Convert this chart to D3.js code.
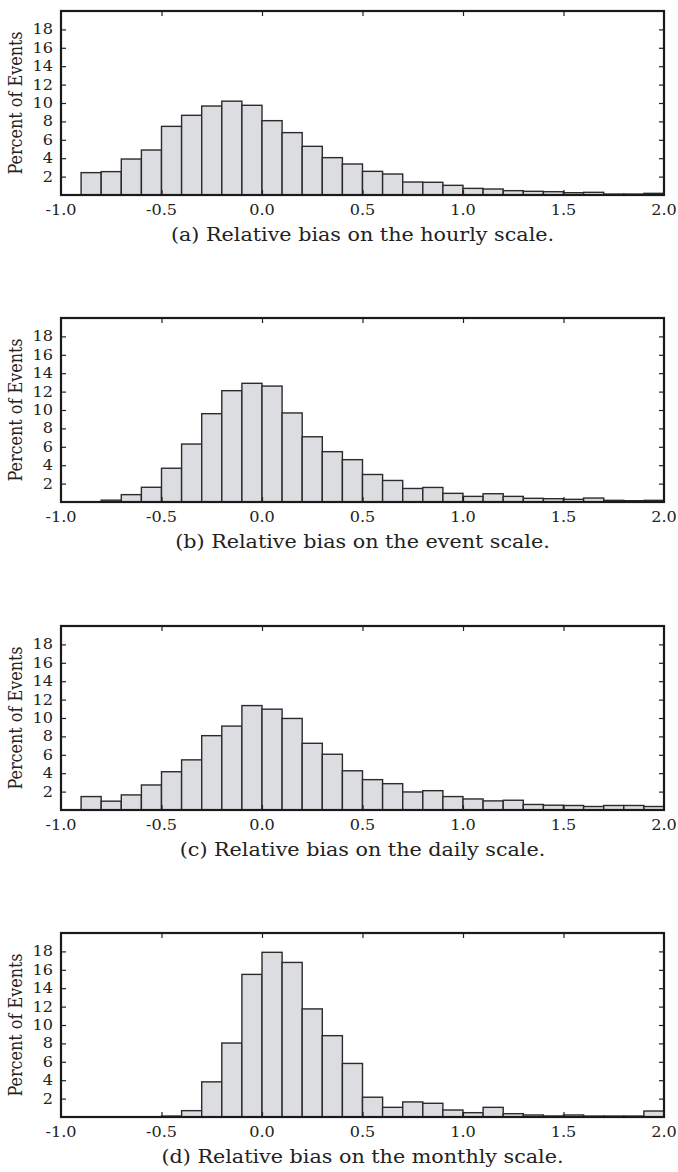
<!DOCTYPE html>
<html>
<head>
<meta charset="utf-8">
<script src="https://cdn.jsdelivr.net/npm/d3@7"></script>
<style>
  body { margin: 0; background: #fff; }
  text { font-family: "DejaVu Serif", serif; fill: #222; }
</style>
</head>
<body>
<div id="chart"></div>
<script>
// bin edges: -1.0 .. 2.0, width 0.1
var binStart = -1.0;
var binWidth = 0.1;

// percent of events per bin
var hourly = [0, 2.43, 2.54, 3.91, 4.89, 7.46, 8.66, 9.67, 10.2, 9.75,
  8.08, 6.78, 5.29, 4.06, 3.37, 2.57, 2.28, 1.41, 1.38, 1.05,
  0.72, 0.65, 0.47, 0.40, 0.36, 0.25, 0.29, 0.10, 0.10, 0.18];
var eventScale = [0, 0, 0.2, 0.8, 1.6, 3.67, 6.3, 9.6, 12.1, 12.9,
  12.6, 9.68, 7.09, 5.47, 4.6, 2.99, 2.34, 1.47, 1.58, 0.94,
  0.61, 0.9, 0.61, 0.4, 0.36, 0.29, 0.43, 0.18, 0.14, 0.18];
var daily = [0, 1.46, 0.96, 1.64, 2.72, 4.16, 5.45, 8.08, 9.12, 11.35,
  10.96, 9.95, 7.25, 6.06, 4.26, 3.3, 2.86, 1.96, 2.1, 1.46,
  1.2, 0.99, 1.06, 0.6, 0.52, 0.49, 0.38, 0.49, 0.49, 0.38];
var monthly = [0, 0, 0, 0, 0, 0.1, 0.69, 3.82, 8.04, 15.5,
  17.9, 16.8, 11.75, 8.84, 5.82, 2.15, 1.05, 1.64, 1.49, 0.76,
  0.47, 1.05, 0.36, 0.22, 0.11, 0.22, 0.1, 0.1, 0.1, 0.65];

var captions = [
  "(a) Relative bias on the hourly scale.",
  "(b) Relative bias on the event scale.",
  "(c) Relative bias on the daily scale.",
  "(d) Relative bias on the monthly scale."
];
var panels = [hourly, eventScale, daily, monthly];

var xTicks = [-1.0, -0.5, 0.0, 0.5, 1.0, 1.5, 2.0];
var yTicks = [2, 4, 6, 8, 10, 12, 14, 16, 18];

var width = 678, height = 1172;
var left = 61, right = 664;
var panelTops = [11, 318, 626, 933];
var panelH = 184;
var stretch = 1.15; // text in the original looks a bit wide

var svg = d3.select("#chart").append("svg")
  .attr("width", width)
  .attr("height", height);

var x = d3.scaleLinear().domain([-1, 2]).range([left, right]);
var y = d3.scaleLinear().domain([0, 20]).range([panelH, 0]);

// wide text helper
function label(g, px, py, str, size, anchor, extra) {
  return g.append("text")
    .attr("transform", "translate(" + px + "," + py + ") scale(" + stretch + ",1)" + (extra || ""))
    .attr("text-anchor", anchor)
    .style("font-size", size + "px")
    .text(str);
}

panels.forEach(function(vals, p) {
  var g = svg.append("g").attr("transform", "translate(0," + panelTops[p] + ")");

  var bins = vals.map(function(v, i) {
    var x0 = +(binStart + i * binWidth).toFixed(2);
    return { x0: x0, x1: +(x0 + binWidth).toFixed(2), v: v };
  }).filter(function(d) { return d.v > 0; });

  g.selectAll("rect.bar")
    .data(bins)
    .enter().append("rect")
    .attr("class", "bar")
    .attr("x", function(d) { return x(d.x0); })
    .attr("width", function(d) { return x(d.x1) - x(d.x0); })
    .attr("y", function(d) { return y(d.v); })
    .attr("height", function(d) { return y(0) - y(d.v); })
    .style("fill", "#dcdde0")
    .style("stroke", "#2b2b2b")
    .style("stroke-width", 1.4);

  // inward ticks on all four sides
  var inner = xTicks.slice(1, -1);
  g.append("g").attr("transform", "translate(0," + panelH + ")")
    .call(d3.axisBottom(x).tickValues(inner).tickSize(-5).tickFormat(""))
    .call(function(a) { a.select(".domain").remove(); });
  g.append("g")
    .call(d3.axisTop(x).tickValues(inner).tickSize(-5).tickFormat(""))
    .call(function(a) { a.select(".domain").remove(); });
  g.append("g").attr("transform", "translate(" + left + ",0)")
    .call(d3.axisLeft(y).tickValues(yTicks).tickSize(-5).tickFormat(""))
    .call(function(a) { a.select(".domain").remove(); });
  g.append("g").attr("transform", "translate(" + right + ",0)")
    .call(d3.axisRight(y).tickValues(yTicks).tickSize(-5).tickFormat(""))
    .call(function(a) { a.select(".domain").remove(); });
  g.selectAll(".tick line").style("stroke", "#222").style("stroke-width", 1.2);

  // tick labels (plain hyphen for minus, like the original)
  xTicks.forEach(function(t) {
    label(g, x(t), panelH + 20, t.toFixed(1), 14, "middle");
  });
  yTicks.forEach(function(t) {
    label(g, left - 8, y(t) + 5, String(t), 14, "end");
  });

  // frame
  g.append("rect")
    .attr("x", left).attr("y", 0)
    .attr("width", right - left).attr("height", panelH)
    .style("fill", "none").style("stroke", "#1a1a1a").style("stroke-width", 2.2);

  label(g, 22, panelH / 2, "Percent of Events", 16, "middle", " rotate(-90)");

  label(g, (left + right) / 2, panelH + 46, captions[p], 18, "middle");
});
</script>
</body>
</html>
